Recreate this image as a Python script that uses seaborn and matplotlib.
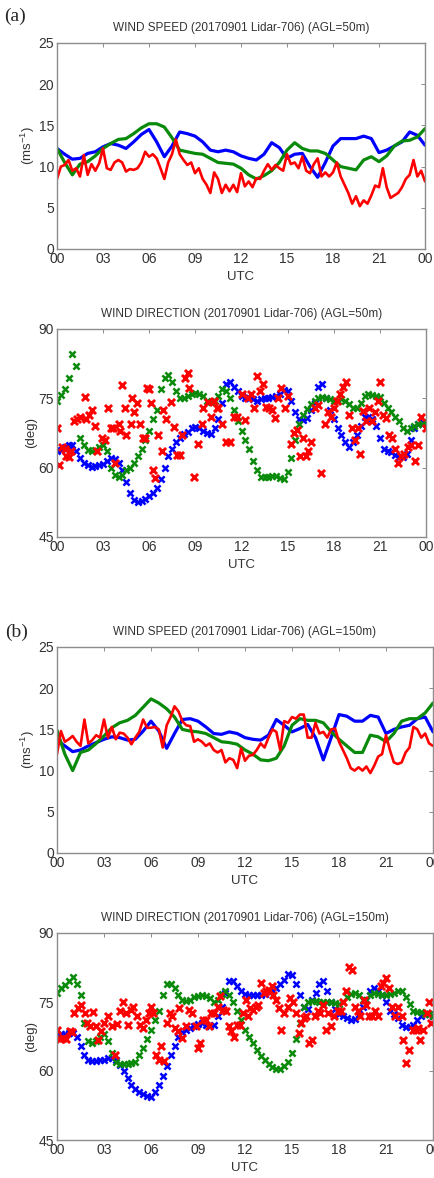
import numpy as np
import pandas as pd
import seaborn as sns
import matplotlib
matplotlib.use("Agg")
import matplotlib.pyplot as plt

# time axes (hours UTC)
t_half = np.arange(0, 24.01, 0.5)
t_quarter = np.arange(0, 24.01, 0.25)
hour_ticks = [0, 3, 6, 9, 12, 15, 18, 21, 24]
hour_labels = ['00', '03', '06', '09', '12', '15', '18', '21', '00']

# ---- (a) AGL=50m : wind speed ----
spd50_blue = [12.2, 11.5, 10.9, 11.0, 11.6, 11.8, 12.4, 12.8, 12.6, 12.2, 13.0, 13.9, 14.5,
              13.0, 11.2, 12.5, 14.2, 14.0, 13.7, 13.0, 12.0, 11.8, 12.0, 11.8, 11.3, 11.0,
              10.8, 11.5, 12.9, 12.3, 11.0, 11.5, 11.6, 10.0, 8.7, 10.5, 12.5, 13.4, 13.4,
              13.4, 13.7, 13.4, 11.7, 12.0, 12.5, 13.0, 14.2, 13.8, 12.6]
spd50_green = [12.2, 10.5, 9.0, 10.3, 10.6, 11.3, 12.2, 12.8, 13.3, 13.4, 14.0, 14.7, 15.2,
               15.2, 14.8, 13.5, 12.0, 11.8, 11.6, 11.5, 11.0, 10.5, 10.4, 10.3, 9.8, 9.0,
               8.5, 8.9, 9.5, 10.5, 12.0, 12.9, 12.2, 11.9, 11.9, 11.6, 10.8, 10.0, 9.8,
               9.6, 10.8, 11.2, 10.6, 11.3, 12.5, 13.1, 13.2, 13.6, 14.6]
spd50_red = [8.5, 10.0, 10.2, 10.8, 9.5, 9.8, 8.8, 11.4, 9.0, 10.3, 9.5, 10.4, 12.2,
             9.8, 9.6, 10.5, 10.8, 10.5, 9.4, 9.7, 9.6, 9.8, 10.5, 11.8, 11.2, 11.5,
             11.0, 9.8, 8.5, 10.5, 11.5, 13.3, 11.5, 10.8, 10.2, 10.5, 9.2, 9.8, 8.5,
             7.8, 6.8, 9.3, 8.5, 6.8, 7.8, 7.0, 7.8, 6.9, 9.2, 7.6, 8.2, 7.5,
             8.6, 8.5, 9.5, 10.3, 9.6, 10.2, 9.8, 9.5, 11.5, 10.3, 10.5, 9.8, 11.2,
             9.5, 9.2, 10.3, 11.0, 8.8, 9.3, 8.8, 9.3, 10.5, 8.8, 7.8, 6.8, 5.5,
             6.4, 5.2, 5.9, 5.5, 6.5, 7.7, 7.5, 9.8, 7.5, 6.2, 6.5, 6.8, 7.5,
             8.5, 9.0, 10.8, 8.8, 9.5, 8.2]

# ---- (a) AGL=50m : wind direction ----
dir50_blue = [63.5, 63.8, 64.5, 65.0, 64.8, 63.5, 62.0, 61.0, 60.5, 60.2, 60.3, 60.5, 60.8,
              61.5, 62.0, 61.8, 61.0, 59.5, 57.0, 54.5, 53.0, 52.5, 52.8, 53.3, 53.8, 54.5,
              55.5, 57.5, 60.0, 62.5, 64.0, 65.5, 66.5, 67.2, 67.8, 68.5, 68.8, 68.5, 68.0,
              67.5, 67.2, 68.5, 70.5, 74.0, 78.0, 78.5, 77.5, 76.5, 75.5, 75.0, 75.0, 74.8,
              74.5, 74.8, 75.0, 75.0, 75.2, 75.5, 76.0, 76.8, 76.5, 74.5, 72.0, 70.5, 70.3,
              70.8, 72.5, 74.0, 77.5, 78.0, 75.0, 72.5, 70.5, 68.5, 67.0, 65.5, 64.5, 65.5,
              67.0, 69.0, 71.0, 71.0, 70.5, 69.0, 66.5, 64.0, 63.5, 63.3, 62.8, 62.2, 62.3,
              63.0, 66.0, 68.5, 69.5, 69.8, 69.5]
dir50_green = [74.5, 75.8, 77.0, 79.5, 84.5, 82.0, 66.5, 65.0, 63.8, 63.5, 63.8, 64.5, 65.0,
               63.5, 60.0, 58.5, 58.0, 58.5, 59.5, 60.0, 61.0, 62.5, 64.0, 66.0, 68.0, 70.5,
               72.5, 77.0, 79.5, 80.0, 78.5, 76.5, 75.0, 75.0, 75.5, 76.0, 76.2, 76.0, 75.5,
               74.5, 74.2, 74.5, 75.5, 77.0, 76.5, 75.0, 72.5, 70.0, 68.0, 66.0, 64.0, 61.5,
               59.5, 58.0, 58.0, 58.0, 58.2, 58.3, 57.8, 57.5, 59.0, 62.0, 66.0, 69.5, 71.5,
               72.8, 73.8, 74.5, 75.0, 75.2, 75.0, 74.8, 74.5, 74.5, 74.8, 74.5, 73.8, 73.0,
               73.0, 74.0, 75.5, 76.0, 75.8, 75.5, 75.3, 74.0, 73.0, 72.0, 71.0, 70.0, 68.5,
               68.0, 68.5, 69.0, 69.5, 69.5, 69.8]
dir50_red_t = [0.0, 0.1, 0.35, 0.5, 0.6, 0.8, 0.9, 1.1, 1.3, 1.5, 1.8, 1.9, 2.1, 2.3, 2.5,
               2.6, 2.9, 3.1, 3.3, 3.5, 3.65, 3.8, 4.0, 4.1, 4.2, 4.4, 4.5, 4.8, 4.9, 5.0,
               5.2, 5.4, 5.6, 5.75, 5.85, 6.0, 6.1, 6.25, 6.4, 6.6, 6.8, 6.9, 7.1, 7.4, 7.6,
               7.8, 8.0, 8.1, 8.3, 8.5, 8.6, 8.9, 9.2, 9.4, 9.5, 9.8, 10.0, 10.2, 10.4, 10.5,
               10.75, 11.0, 11.25, 11.5, 11.7, 12.0, 12.2, 12.4, 12.6, 12.8, 13.0, 13.2, 13.4,
               13.6, 13.8, 14.0, 14.2, 14.4, 14.6, 14.8, 15.0, 15.2, 15.4, 15.6, 15.8, 16.0,
               16.2, 16.3, 16.5, 16.8, 17.0, 17.2, 17.4, 17.6, 17.8, 18.0, 18.2, 18.4, 18.6,
               18.8, 19.0, 19.2, 19.4, 19.6, 19.7, 19.9, 20.1, 20.3, 20.5, 20.7, 20.9, 21.0,
               21.2, 21.4, 21.6, 21.8, 22.0, 22.2, 22.4, 22.6, 22.8, 23.0, 23.3, 23.5, 23.7, 24.0]
dir50_red_v = [68.5, 60.5, 64.5, 64.0, 62.5, 62.3, 63.5, 70.0, 70.5, 71.0, 75.3, 70.5, 71.5,
               72.5, 69.0, 63.5, 66.5, 66.0, 73.0, 68.5, 68.5, 61.0, 69.5, 68.0, 77.8, 73.0,
               67.0, 69.5, 75.0, 72.0, 74.0, 69.5, 66.5, 66.5, 77.2, 77.0, 74.0, 59.5, 57.7,
               67.0, 63.5, 72.5, 70.5, 74.3, 68.7, 62.7, 62.7, 67.0, 79.4, 80.5, 77.2, 57.9,
               65.2, 69.5, 72.9, 74.3, 71.0, 74.5, 72.9, 73.0, 69.5, 65.6, 65.6, 71.0, 71.0,
               76.0, 70.3, 75.0, 76.0, 73.0, 79.9, 76.5, 78.0, 73.2, 73.0, 72.5, 70.7, 75.0,
               77.2, 73.0, 75.5, 65.2, 67.4, 68.1, 62.5, 66.5, 62.5, 63.5, 65.5, 73.0, 73.5,
               58.8, 69.5, 72.0, 71.0, 73.0, 74.5, 76.0, 77.5, 78.5, 71.5, 68.5, 66.0, 68.5,
               63.0, 72.2, 70.0, 73.0, 70.0, 72.0, 74.5, 78.5, 71.5, 70.8, 67.0, 66.5, 64.0,
               61.0, 62.5, 63.0, 64.5, 65.0, 61.5, 64.8, 71.0, 68.5]

# ---- (b) AGL=150m : wind speed ----
spd150_blue = [13.7, 13.0, 12.3, 12.5, 13.0, 13.4, 13.8, 14.1, 14.0, 13.7, 13.8, 14.8, 16.0,
               14.8, 12.7, 14.5, 16.2, 16.3, 16.0, 15.3, 14.5, 14.4, 14.7, 14.5, 14.0, 13.8,
               13.7, 14.3, 16.2, 15.5, 14.7, 15.1, 15.6, 14.0, 11.3, 14.0, 16.8, 16.6, 16.0,
               16.0, 16.7, 16.5, 14.5, 15.0, 15.3, 15.5, 16.3, 16.5, 14.7]
spd150_green = [14.9, 12.0, 10.0, 12.2, 12.5, 13.3, 14.2, 15.2, 15.8, 16.1, 16.7, 17.7, 18.7,
                18.2, 17.5, 16.5, 15.0, 14.8, 14.7, 14.5, 14.0, 13.5, 13.4, 13.2, 12.5, 12.0,
                11.3, 11.2, 11.5, 13.0, 15.5, 16.3, 16.1, 16.1, 15.8, 14.7, 13.8, 13.0, 12.2,
                12.2, 14.3, 14.1, 13.5, 14.5, 16.0, 16.3, 16.3, 17.0, 18.2]
spd150_red = [12.0, 14.8, 13.5, 13.8, 14.2, 13.5, 13.0, 16.2, 13.3, 13.7, 14.3, 14.0, 16.2,
              14.0, 15.3, 13.8, 14.6, 14.5, 14.0, 13.2, 14.0, 14.7, 16.2, 15.2, 15.2, 15.3,
              15.0, 12.8, 15.5, 16.5, 17.8, 17.2, 16.0, 15.5, 15.4, 13.5, 13.8, 13.5, 13.0,
              13.3, 12.5, 12.2, 12.5, 11.0, 11.5, 11.3, 10.3, 12.7, 11.2, 11.8, 11.9, 12.5,
              13.3, 12.8, 14.0, 15.0, 14.7, 12.5, 16.0, 15.8, 16.5, 16.3, 16.8, 16.8, 14.0,
              14.0, 15.8, 14.5, 14.7, 14.0, 15.0, 15.1, 13.5, 12.5, 11.5, 10.3, 10.0, 10.4,
              10.0, 10.5, 9.7, 10.6, 11.7, 12.0, 14.3, 12.5, 11.0, 10.8, 11.0, 12.2, 12.8,
              15.3, 15.0, 14.0, 14.5, 13.3, 13.0]

# ---- (b) AGL=150m : wind direction ----
dir150_blue = [68.0, 68.0, 68.0, 68.2, 68.3, 67.5, 65.5, 63.5, 62.5, 62.2, 62.2, 62.3, 62.5,
               62.8, 62.8, 62.3, 61.3, 60.0, 58.5, 57.0, 56.0, 55.5, 55.0, 54.5, 54.3, 55.5,
               57.0, 59.0, 61.0, 63.5, 65.5, 67.5, 68.5, 69.0, 69.3, 69.8, 70.3, 70.5, 70.0,
               69.8, 70.0, 72.0, 74.0, 77.0, 79.5, 79.5, 78.5, 77.3, 76.8, 76.5, 76.5, 76.5,
               76.5, 76.8, 77.3, 77.5, 78.0, 79.0, 79.8, 81.0, 80.8, 79.0, 76.5, 74.0, 73.5,
               75.5, 77.0, 79.0, 79.5, 77.5, 75.0, 73.5, 72.5, 72.0, 71.5, 71.0, 71.2, 72.5,
               74.0, 75.5, 77.5, 78.0, 77.5, 76.5, 75.0, 73.0, 72.5, 71.5, 70.0, 69.5, 69.5,
               70.0, 71.0, 72.0, 72.5, 72.5, 72.0]
dir150_green = [77.0, 78.0, 78.8, 79.5, 80.5, 79.0, 76.5, 70.5, 66.5, 66.0, 66.5, 67.5, 68.0,
                66.5, 64.0, 62.0, 61.5, 61.5, 61.5, 61.7, 62.0, 63.5, 65.0, 67.0, 69.0, 71.0,
                73.0, 76.5, 79.0, 79.0, 78.0, 76.5, 75.5, 75.3, 75.5, 76.0, 76.3, 76.5, 76.3,
                75.8, 75.0, 75.5, 76.8, 77.5, 76.5, 75.0, 73.0, 71.0, 69.0, 67.5, 66.0, 64.5,
                63.3, 62.3, 61.5, 60.8, 60.5, 60.5, 61.0, 62.0, 64.0, 67.0, 70.5, 74.0, 75.0,
                75.2, 75.2, 75.0, 75.0, 75.0, 75.0, 74.8, 74.5, 75.0, 76.0, 76.8, 77.0, 76.5,
                75.5, 75.5, 76.5, 77.0, 76.8, 76.5, 76.5, 76.8, 77.0, 77.5, 77.3, 76.0, 74.5,
                73.0, 72.8, 72.8, 72.5, 72.3, 72.0]
dir150_red_t = [0.0, 0.17, 0.4, 0.6, 0.8, 0.95, 1.1, 1.35, 1.55, 1.8, 1.9, 2.1, 2.3, 2.5,
                2.6, 2.8, 3.0, 3.25, 3.5, 3.7, 3.8, 4.0, 4.2, 4.4, 4.5, 4.7, 4.85, 5.1, 5.3,
                5.5, 5.7, 5.9, 6.0, 6.1, 6.3, 6.5, 6.65, 6.8, 7.0, 7.2, 7.35, 7.5, 7.7, 7.8,
                8.0, 8.25, 8.45, 8.6, 8.85, 9.0, 9.1, 9.3, 9.5, 9.7, 9.85, 10.05, 10.3, 10.4,
                10.6, 10.8, 11.0, 11.1, 11.3, 11.5, 11.65, 11.9, 12.05, 12.2, 12.35, 12.5, 12.7,
                12.8, 13.0, 13.2, 13.35, 13.5, 13.7, 13.8, 14.0, 14.2, 14.3, 14.5, 14.75, 14.9,
                15.05, 15.25, 15.45, 15.6, 15.75, 15.9, 16.1, 16.25, 16.45, 16.65, 16.8, 17.0,
                17.15, 17.3, 17.5, 17.7, 17.95, 18.1, 18.25, 18.45, 18.65, 18.85, 19.0, 19.2,
                19.35, 19.6, 19.75, 19.9, 20.1, 20.3, 20.5, 20.65, 20.8, 21.0, 21.2, 21.4,
                21.55, 21.75, 22.0, 22.1, 22.3, 22.45, 22.7, 22.9, 23.05, 23.2, 23.35, 23.6,
                23.75, 23.9]
dir150_red_v = [69.0, 66.9, 67.2, 67.0, 68.6, 68.4, 72.7, 73.7, 74.4, 72.7, 70.4, 69.7, 72.8,
                69.7, 66.8, 68.6, 70.4, 71.9, 69.7, 63.5, 70.3, 73.0, 75.1, 72.7, 70.0, 73.3,
                74.0, 71.9, 70.0, 69.3, 71.1, 72.7, 74.0, 72.7, 63.5, 62.4, 65.5, 62.1, 70.4,
                72.6, 71.9, 69.3, 68.6, 73.7, 67.1, 69.7, 73.3, 72.6, 69.7, 65.0, 66.1, 71.1,
                71.1, 69.7, 72.6, 72.6, 74.0, 76.2, 73.3, 73.0, 69.7, 68.6, 67.5, 70.0, 70.0,
                72.6, 75.5, 71.9, 73.7, 73.3, 74.0, 74.4, 79.1, 76.9, 77.3, 77.7, 78.4, 76.6,
                75.5, 73.7, 69.0, 72.6, 74.0, 75.8, 75.1, 72.6, 68.2, 70.4, 71.5, 71.9, 66.1,
                66.8, 71.9, 73.0, 72.6, 74.4, 69.0, 72.6, 69.7, 71.9, 73.0, 73.0, 75.1, 77.3,
                82.7, 82.0, 74.0, 73.0, 71.9, 75.5, 74.4, 71.9, 71.9, 73.0, 71.9, 78.4, 79.1,
                80.2, 78.0, 74.0, 71.9, 74.0, 71.9, 66.8, 61.7, 64.6, 69.0, 69.0, 69.3, 66.8,
                69.0, 72.6, 75.1, 70.4]

BLUE = '#0000ff'
GREEN = '#0a8a0a'
RED = '#ff0000'
TEXT = '#333333'

sns.set_style('white')
plt.rcParams['font.family'] = ['Liberation Sans', 'DejaVu Sans']
plt.rcParams['mathtext.fontset'] = 'custom'
plt.rcParams['mathtext.rm'] = 'Liberation Sans'
plt.rcParams['mathtext.it'] = 'Liberation Sans'

fig = plt.figure(figsize=(4.34, 11.78), dpi=100)
W, H = 434.0, 1178.0


def add_axes(left, right, top, bottom):
    ax = fig.add_axes([left / W, 1 - bottom / H, (right - left) / W, (bottom - top) / H])
    return ax, right - left


def style_axis(ax, width_px, ylim, yticks, ylabel, title):
    ax.set_xlim(0, 24)
    ax.set_ylim(*ylim)
    ax.set_xticks(hour_ticks)
    ax.set_xticklabels(hour_labels)
    ax.set_yticks(yticks)
    ax.set_xlabel('UTC', fontsize=9.5, color=TEXT, labelpad=4)
    ax.set_ylabel(ylabel, fontsize=9.5, color=TEXT)
    # ylabel right edge about 37 px from the figure edge
    ax.yaxis.set_label_coords(-(57 - 37) / width_px, 0.5)
    ax.set_title(title, fontsize=8.5, color=TEXT, pad=9)
    ax.tick_params(direction='in', top=True, right=True, length=3, width=0.7,
                   colors='#8c8c8c', labelcolor=TEXT, labelsize=10, pad=2)
    for sp in ax.spines.values():
        sp.set_color('#8c8c8c')
        sp.set_linewidth(1.0)


def speed_panel(ax, width_px, blue, green, red, title):
    df_line = pd.DataFrame({'t': t_half, 'blue': blue, 'green': green})
    df_red = pd.DataFrame({'t': t_quarter, 'red': red})
    sns.lineplot(data=df_line, x='t', y='blue', color=BLUE, lw=2.3, ax=ax)
    sns.lineplot(data=df_line, x='t', y='green', color=GREEN, lw=2.3, ax=ax)
    sns.lineplot(data=df_red, x='t', y='red', color=RED, lw=1.9, ax=ax)
    style_axis(ax, width_px, (0, 25), [0, 5, 10, 15, 20, 25], '(ms$^{-1}$)', title)


def dir_panel(ax, width_px, blue, green, red_t, red_v, title):
    df = pd.DataFrame({'t': t_quarter, 'blue': blue, 'green': green})
    df_red = pd.DataFrame({'t': red_t, 'red': red_v})
    sns.scatterplot(data=df, x='t', y='blue', color=BLUE, marker='x', s=20, linewidth=1.8, ax=ax)
    sns.scatterplot(data=df, x='t', y='green', color=GREEN, marker='x', s=20, linewidth=1.8, ax=ax)
    sns.scatterplot(data=df_red, x='t', y='red', color=RED, marker='x', s=26, linewidth=2.1, ax=ax)
    style_axis(ax, width_px, (45, 90), [45, 60, 75, 90], '(deg)', title)


ax1, w1 = add_axes(57, 425, 43, 249)
speed_panel(ax1, w1, spd50_blue, spd50_green, spd50_red,
            'WIND SPEED (20170901 Lidar-706) (AGL=50m)')
ax2, w2 = add_axes(57, 426, 329, 537)
dir_panel(ax2, w2, dir50_blue, dir50_green, dir50_red_t, dir50_red_v,
          'WIND DIRECTION (20170901 Lidar-706) (AGL=50m)')
ax3, w3 = add_axes(57, 433, 647, 853)
speed_panel(ax3, w3, spd150_blue, spd150_green, spd150_red,
            'WIND SPEED (20170901 Lidar-706) (AGL=150m)')
ax4, w4 = add_axes(57, 433, 933, 1140)
dir_panel(ax4, w4, dir150_blue, dir150_green, dir150_red_t, dir150_red_v,
          'WIND DIRECTION (20170901 Lidar-706) (AGL=150m)')

fig.text(4 / W, 1 - 16 / H, '(a)', fontsize=14, family='Liberation Serif', va='center', ha='left')
fig.text(5 / W, 1 - 632 / H, '(b)', fontsize=14, family='Liberation Serif', va='center', ha='left')

fig.savefig('out.png', dpi=100)
